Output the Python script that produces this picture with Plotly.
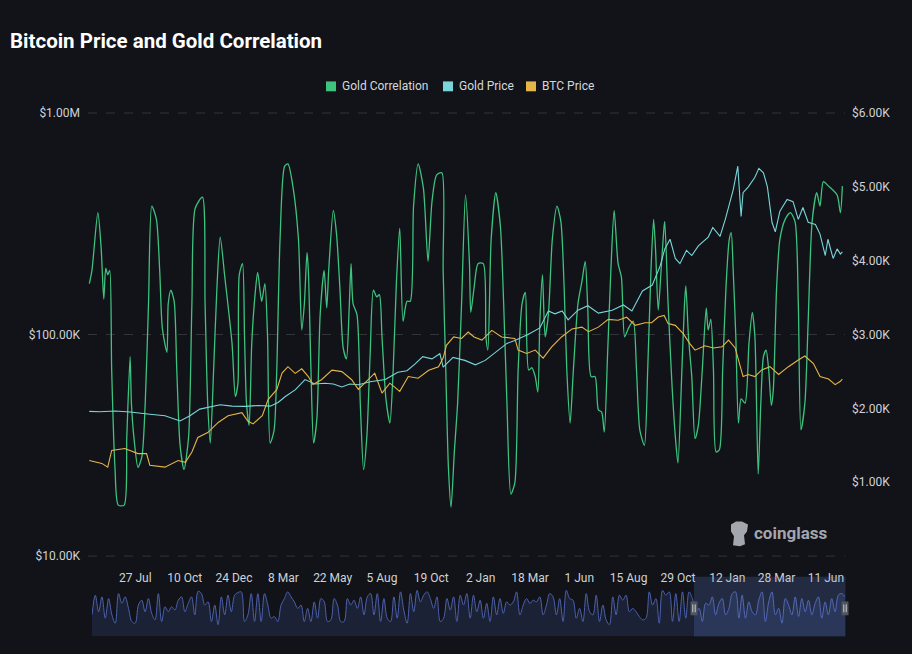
import pandas as pd
import plotly.graph_objects as go

# ---------------- data ----------------
START = "2023-05-16"
END = "2026-07-10"
SERIES_NAMES = ["Gold Correlation", "Gold Price", "BTC Price"]

CORR_DAYS = [2, 6, 15, 20, 24, 27, 30, 33, 36, 41, 46, 55, 59, 64, 66, 70, 76, 82, 87, 92, 97, 104, 109, 113, 120, 122, 126, 131,
             135, 140, 146, 153, 158, 163, 174, 178, 182, 186, 191, 196, 201, 208, 219, 224, 228, 230, 235, 238, 241, 245, 249,
             254, 258, 264, 269, 273, 277, 283, 287, 292, 299, 304, 312, 320, 325, 329, 333, 335, 339, 343, 348, 353, 359, 363,
             366, 373, 378, 383, 388, 393, 397, 400, 403, 409, 414, 419, 424, 429, 434, 439, 443, 447, 453, 459, 464, 469, 474,
             479, 485, 490, 495, 502, 510, 517, 523, 530, 538, 540, 544, 548, 552, 557, 562, 568, 574, 580, 582, 587, 593, 601,
             605, 608, 613, 620, 627, 632, 637, 643, 649, 654, 660, 665, 670, 675, 680, 684, 687, 691, 695, 700, 706, 713, 719,
             724, 728, 733, 738, 745, 751, 756, 760, 765, 771, 776, 781, 785, 790, 795, 800, 806, 811, 816, 822, 829, 834, 839,
             846, 851, 856, 860, 863, 867, 872, 876, 877, 882, 888, 893, 897, 903, 907, 909, 913, 918, 923, 928, 934, 940, 943,
             947, 951, 955, 960, 965, 970, 975, 978, 981, 985, 989, 993, 999, 1005, 1010, 1014, 1019, 1023, 1027, 1031, 1035,
             1039, 1042, 1047, 1052, 1060, 1068, 1075, 1080, 1084, 1090, 1095, 1101, 1108, 1113, 1118, 1126, 1139, 1144, 1147]
CORR_VALUES = [0.23, 0.29, 0.55, 0.39, 0.16, 0.30, 0.27, 0.29, -0.16, -0.60, -0.77, -0.77, -0.46, -0.10, -0.31, -0.47, -0.60,
               -0.55, -0.31, 0.14, 0.58, 0.52, 0.29, 0.03, -0.08, 0.14, 0.20, 0.15, -0.16, -0.50, -0.61, -0.46, 0.14, 0.57,
               0.62, 0.14, -0.31, -0.49, -0.16, 0.21, 0.44, 0.26, -0.04, -0.28, -0.22, 0.27, 0.32, -0.01, -0.31, -0.41, -0.04,
               0.18, 0.28, 0.15, 0.23, -0.01, -0.49, -0.43, -0.16, 0.43, 0.76, 0.77, 0.66, 0.43, 0.02, 0.14, 0.37, 0.29, -0.16,
               -0.49, -0.38, 0.09, 0.29, 0.12, 0.29, 0.56, 0.45, 0.21, -0.06, -0.11, 0.11, 0.32, 0.14, 0.09, -0.31, -0.61,
               -0.46, -0.09, 0.20, 0.17, 0.18, -0.01, -0.29, -0.40, -0.16, 0.24, 0.48, 0.06, 0.15, 0.15, 0.58, 0.77, 0.66,
               0.33, 0.60, 0.72, 0.73, 0.29, -0.16, -0.60, -0.78, -0.53, -0.31, 0.14, 0.63, 0.32, 0.10, 0.21, 0.32, 0.32,
               -0.01, -0.07, 0.43, 0.64, 0.49, 0.14, -0.31, -0.72, -0.67, -0.16, 0.14, 0.19, -0.16, -0.15, -0.19, -0.26,
               0.06, 0.27, -0.01, 0.09, 0.43, 0.58, 0.51, 0.21, -0.16, -0.40, -0.16, 0.14, 0.24, 0.33, 0.11, -0.19, -0.19,
               -0.34, -0.35, -0.44, -0.09, 0.29, 0.56, 0.32, 0.26, -0.01, 0.03, 0.06, -0.16, -0.43, -0.50, -0.16, 0.29, 0.52,
               0.38, 0.11, 0.32, 0.49, 0.51, 0.14, -0.23, -0.46, -0.58, -0.16, 0.14, 0.22, -0.01, -0.19, -0.47, -0.41, -0.16,
               0.12, 0.02, 0.07, -0.16, -0.53, -0.52, -0.16, 0.21, 0.43, 0.46, 0.29, -0.01, -0.40, -0.29, -0.31, -0.04, 0.10,
               -0.01, -0.63, -0.31, -0.10, -0.07, -0.16, -0.32, -0.25, 0.21, 0.43, 0.52, 0.55, 0.51, 0.14, -0.43, -0.31, 0.06,
               0.51, 0.64, 0.58, 0.69, 0.67, 0.63, 0.55, 0.67]

GOLD_DAYS = [2, 18, 41, 64, 94, 117, 140, 155, 170, 186, 201, 219, 239, 259, 277, 289, 300, 315, 330, 345, 360, 373, 386, 398,
             411, 429, 452, 471, 485, 497, 509, 523, 535, 540, 555, 573, 589, 604, 624, 637, 649, 669, 687, 700, 710, 721, 730,
             745, 760, 776, 797, 814, 827, 843, 858, 870, 877, 885, 893, 900, 910, 918, 928, 943, 950, 961, 969, 981, 988, 993,
             996, 1004, 1014, 1020, 1027, 1033, 1040, 1045, 1052, 1063, 1072, 1080, 1087, 1095, 1106, 1113, 1121, 1125, 1133,
             1139, 1144, 1147]
GOLD_PRICES = [1960, 1955, 1965, 1950, 1920, 1900, 1830, 1900, 1990, 2020, 2050, 2030, 2027, 2040, 2030, 2080, 2160, 2250,
               2390, 2330, 2340, 2330, 2290, 2330, 2320, 2360, 2390, 2490, 2510, 2600, 2700, 2670, 2740, 2560, 2690, 2650,
               2590, 2650, 2790, 2880, 2920, 3000, 3090, 3320, 3280, 3320, 3200, 3330, 3390, 3290, 3330, 3400, 3320, 3590,
               3670, 3930, 4160, 4290, 4030, 3960, 4140, 4070, 4200, 4320, 4450, 4330, 4560, 4960, 5280, 4600, 4920, 5000,
               5130, 5250, 5190, 5000, 4520, 4390, 4670, 4830, 4800, 4560, 4720, 4520, 4490, 4360, 4070, 4290, 4030, 4160,
               4090, 4120]

BTC_DAYS = [2, 21, 30, 36, 56, 76, 89, 94, 117, 137, 148, 158, 167, 182, 198, 213, 234, 243, 251, 265, 274, 287, 295, 304, 315,
            325, 335, 342, 355, 371, 386, 401, 411, 426, 436, 447, 459, 474, 487, 502, 518, 533, 540, 545, 556, 568, 578, 587,
            599, 614, 629, 649, 654, 667, 680, 692, 705, 720, 736, 751, 761, 776, 791, 806, 819, 832, 847, 857, 867, 876, 882,
            893, 905, 915, 923, 938, 951, 964, 974, 984, 991, 996, 1004, 1014, 1024, 1037, 1050, 1065, 1080, 1090, 1103, 1113,
            1126, 1136, 1144, 1147]
BTC_PRICES = [27000, 26200, 25200, 30000, 30600, 29000, 29000, 25700, 25200, 27000, 26500, 29500, 34300, 36100, 40100, 43000,
              44400, 40700, 39500, 43000, 51000, 56400, 67000, 71600, 66800, 70000, 64600, 59500, 62500, 69100, 68000, 62500,
              56600, 62500, 66900, 54400, 60300, 55400, 64600, 63500, 69000, 71600, 78300, 89400, 97500, 96000, 102600, 97500,
              94400, 104400, 97500, 96000, 85100, 82200, 85100, 78200, 87900, 97500, 106000, 108000, 103000, 108000, 117000,
              116000, 119700, 110000, 113000, 113000, 120000, 122000, 112000, 110000, 101000, 91000, 85000, 89000, 87000,
              88000, 94400, 87000, 74000, 64600, 66000, 64600, 69100, 71600, 66000, 71600, 76700, 80000, 74000, 64600, 63000,
              59400, 61500, 63000]

OVERVIEW_CORR = [-0.35, 0.71, -0.18, 0.62, -0.53, 0.53, -0.35, -0.80, 0.80, 0.27, 0.62, 0.0, -0.71, -0.80, 0.18, 0.44, -0.18,
                 0.53, -0.27, -0.62, 0.80, -0.71, 0.09, -0.18, 0.09, -0.09, 0.44, 0.62, -0.18, 0.27, 0.62, -0.35, 0.92, 0.80,
                 0.18, 0.35, -0.71, 0.18, -0.88, 0.62, -0.35, 0.71, -0.18, 0.71, 0.85, 0.89, -0.71, -0.35, 0.80, -0.71, 0.80,
                 -0.71, 0.80, 0.18, -0.53, -0.44, -0.71, 0.18, 0.53, 0.89, 0.62, 0.35, 0.0, 0.18, -0.71, 0.0, -0.71, 0.35,
                 -0.53, 0.53, 0.35, -0.71, -0.62, 0.53, 0.18, -0.71, -0.71, 0.53, 0.18, 0.44, 0.0, 0.62, -0.35, 0.62, 0.80,
                 -0.35, 0.80, -0.71, 0.53, -0.53, -0.71, 0.62, -0.53, 0.89, -0.09, -0.80, 0.80, -0.18, 0.97, 0.35, 0.71, 0.89,
                 0.53, 0.0, 0.62, -0.71, -0.53, 0.53, -0.09, 0.62, -0.71, 0.71, 0.18, 0.80, -0.53, 0.71,
                 -0.18, 0.44, -0.53, 0.27, -0.71, 0.62, -0.35, 0.53, -0.27, 0.35, 0.18, 0.35, 0.89, -0.35, 0.18, 0.53, 0.27,
                 0.44, 0.35, 0.62, -0.35, 0.18, 0.80, 0.62, -0.35, 0.53, -0.71, 0.97, 0.53, 0.44, -0.53, 0.0, -0.71, 0.80,
                 -0.18, -0.35, 0.71, -0.71, 0.18, -0.62, -0.88, 0.62, -0.35, 0.71, 0.44, 0.71, -0.18, 0.0, -0.18, -0.44,
                 -0.62, -0.53, 0.89, 0.18, 0.53, -0.80, 0.97, 0.71, 0.89, -0.71, 0.80, -0.71, 0.89, -0.53, 0.89, 0.53, -0.18,
                 0.0, -0.71, 0.27, 0.18, 0.62, -0.35, 0.27, 0.53, -0.35, 0.0, 0.80, 0.89, -0.53, 0.71, -0.53, 0.35, -0.18,
                 -0.35, 0.44, 0.89, -0.71, 0.35, 0.89, -0.35, 0.0, -0.80, 0.53, 0.18, -0.35, 0.62, -0.44, 0.53, -0.18, 0.44,
                 -0.35, 0.27, 0.62, -0.53, 0.35, -0.35, 0.53, -0.18, 0.71, 0.80, 0.62]

TICK_DATES = ["2023-07-27", "2023-10-10", "2023-12-24", "2024-03-08", "2024-05-22", "2024-08-05", "2024-10-19",
              "2025-01-02", "2025-03-18", "2025-06-01", "2025-08-15", "2025-10-29", "2026-01-12", "2026-03-28", "2026-06-11"]
TICK_LABELS = ["27 Jul", "10 Oct", "24 Dec", "8 Mar", "22 May", "5 Aug", "19 Oct", "2 Jan", "18 Mar", "1 Jun", "15 Aug",
               "29 Oct", "12 Jan", "28 Mar", "11 Jun"]
LEFT_TICKS = [1e4, 1e5, 1e6]
LEFT_LABELS = ["$10.00K", "$100.00K", "$1.00M"]
RIGHT_TICKS = [1000, 2000, 3000, 4000, 5000, 6000]
RIGHT_LABELS = ["$1.00K", "$2.00K", "$3.00K", "$4.00K", "$5.00K", "$6.00K"]

# ---------------- style ----------------
BG = "#111319"
GREEN = "#3ec27e"
CYAN = "#7ad5d8"
ORANGE = "#e6b548"
COLORS = [GREEN, CYAN, ORANGE]
TXT = "#d0d2d6"
FONT = "Roboto"
GRID = "rgba(255,255,255,0.14)"

W, H = 912, 654
L, R, T, B = 88, 67, 113, 11
PW, PH = W - L - R, H - T - B


def px(x):
    return (x - L) / PW


def py(y):
    return (H - B - y) / PH


def to_dates(days):
    return pd.Timestamp(START) + pd.to_timedelta(days, unit="D")


fig = go.Figure()

fig.add_trace(go.Scatter(x=to_dates(CORR_DAYS), y=CORR_VALUES, name=SERIES_NAMES[0], mode="lines",
                         line=dict(color=GREEN, width=1.3, shape="spline", smoothing=0.7), xaxis="x", yaxis="y"))
fig.add_trace(go.Scatter(x=to_dates(GOLD_DAYS), y=GOLD_PRICES, name=SERIES_NAMES[1], mode="lines",
                         line=dict(color=CYAN, width=1.1), xaxis="x", yaxis="y2"))
fig.add_trace(go.Scatter(x=to_dates(BTC_DAYS), y=BTC_PRICES, name=SERIES_NAMES[2], mode="lines",
                         line=dict(color=ORANGE, width=1.1), xaxis="x", yaxis="y3"))

# overview (data zoom) mini chart
OV_MIN, OV_MAX = -1.49, 1.65
ov_x = list(range(len(OVERVIEW_CORR)))
fig.add_trace(go.Scatter(x=ov_x, y=[OV_MIN] * len(ov_x), mode="lines", line=dict(width=0), hoverinfo="skip",
                         xaxis="x2", yaxis="y4", showlegend=False))
fig.add_trace(go.Scatter(x=ov_x, y=OVERVIEW_CORR, mode="lines", line=dict(color="#4d61ad", width=1, shape="spline"),
                         fill="tonexty", fillcolor="rgba(52,68,120,0.30)", xaxis="x2", yaxis="y4", showlegend=False))

axis_font = dict(family=FONT, size=12, color=TXT)

fig.update_layout(
    width=W, height=H, margin=dict(l=L, r=R, t=T, b=B),
    paper_bgcolor=BG, plot_bgcolor=BG, showlegend=False,
    title=dict(text="<b>Bitcoin Price and Gold Correlation</b>", x=10 / W, xanchor="left", xref="container",
               y=1 - 41 / H, yanchor="middle", yref="container",
               font=dict(family=FONT, size=20.5, color="#ffffff")),
    xaxis=dict(domain=[0, 1], anchor="y", type="date", range=[START, END], tickvals=TICK_DATES,
               ticktext=TICK_LABELS, showgrid=False, zeroline=False, showline=False, ticks="",
               tickfont=axis_font, ticklabelstandoff=13),
    yaxis=dict(domain=[py(562), 1], range=[-1, 1], visible=False, fixedrange=True),
    yaxis2=dict(overlaying="y", side="right", anchor="x", range=[0, 6000], tickvals=RIGHT_TICKS,
                ticktext=RIGHT_LABELS, showgrid=False, zeroline=False, showline=False, ticks="",
                tickfont=axis_font, ticklabelstandoff=6),
    yaxis3=dict(overlaying="y", side="left", anchor="x", type="log", range=[4, 6], tickvals=LEFT_TICKS,
                ticktext=LEFT_LABELS, showgrid=True, gridcolor=GRID, griddash="dash",
                gridwidth=1, zeroline=False, showline=False, ticks="", tickfont=axis_font, ticklabelstandoff=7),
    xaxis2=dict(domain=[px(92), 1], anchor="y4", range=[0, len(ov_x) - 1], visible=False),
    yaxis4=dict(domain=[0, py(584)], anchor="x2", range=[OV_MIN, OV_MAX], visible=False),
)

shapes = []
annotations = []

# dashed grid lines at the top and bottom edges of the value axis (plotly skips edge grid lines)
for gy in (113, 562):
    shapes.append(dict(type="line", xref="paper", yref="paper", x0=0, x1=1, y0=py(gy), y1=py(gy),
                       line=dict(color=GRID, width=1, dash="dash"), layer="below"))

# legend (manual, square markers)
leg_sq = [326, 443, 526]
for name, color, x0 in zip(SERIES_NAMES, COLORS, leg_sq):
    shapes.append(dict(type="rect", xref="paper", yref="paper", x0=px(x0), x1=px(x0 + 10), y0=py(91), y1=py(81),
                       fillcolor=color, line=dict(width=0)))
    annotations.append(dict(text=name, xref="paper", yref="paper", x=px(x0 + 14), y=py(86), xanchor="left",
                            yanchor="middle", showarrow=False, font=dict(family=FONT, size=12, color="#d6d8dc")))

# data zoom selection + handles
shapes.append(dict(type="rect", xref="paper", yref="paper", x0=px(694), x1=px(845.5), y0=py(643.5), y1=py(583),
                   fillcolor="rgba(110,140,230,0.20)", line=dict(width=0), layer="above"))
for hx in (694, 845):
    shapes.append(dict(type="rect", xref="paper", yref="paper", x0=px(hx - 3.5), x1=px(hx + 3.5), y0=py(622),
                       y1=py(608), fillcolor="#50545f", line=dict(width=0), layer="above"))
    for dx in (-1.2, 1.2):
        shapes.append(dict(type="line", xref="paper", yref="paper", x0=px(hx + dx), x1=px(hx + dx), y0=py(619),
                           y1=py(611), line=dict(color="#c9cbd0", width=1), layer="above"))

# coinglass watermark
icon = [(731, 530), (736, 527), (742, 527), (748, 530), (747, 537), (744, 541), (745, 550), (740, 552), (733, 551),
        (734, 542), (731, 537)]
path = "M " + " L ".join(f"{px(a):.5f},{py(b):.5f}" for a, b in icon) + " Z"
shapes.append(dict(type="path", xref="paper", yref="paper", path=path, fillcolor="#a3a6ad", line=dict(width=0)))
annotations.append(dict(text="<b>coinglass</b>", xref="paper", yref="paper", x=px(752), y=py(539), xanchor="left",
                        yanchor="middle", showarrow=False, font=dict(family=FONT, size=17, color="#a3a6ad")))

fig.update_layout(shapes=shapes, annotations=annotations)

fig.write_html("out.html")
